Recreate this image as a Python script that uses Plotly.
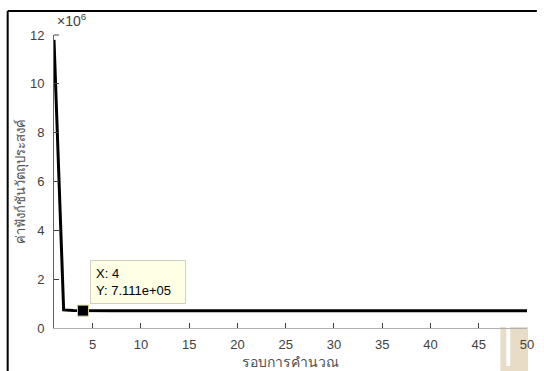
import plotly.graph_objects as go

# Objective value per iteration
iterations = list(range(1, 51))
objective = [11.8e6, 7.4e5, 7.2e5] + [7.111e5] * 47

tip_x = 4
tip_y = 7.111e5

y_tick_vals = [0, 2e6, 4e6, 6e6, 8e6, 10e6, 12e6]
y_tick_text = ["0", "2", "4", "6", "8", "10", "12"]
x_tick_vals = [5, 10, 15, 20, 25, 30, 35, 40, 45, 50]

W, H = 544, 371
ML, MR, MT, MB = 54, 10, 35, 43
PW = W - ML - MR
PH = H - MT - MB


def px(x):
    return (x - ML) / PW


def py(y):
    return (H - MB - y) / PH


fig = go.Figure()
fig.add_trace(go.Scatter(
    x=iterations, y=objective, mode="lines",
    line=dict(color="black", width=3), hoverinfo="skip", showlegend=False,
))
fig.add_trace(go.Scatter(
    x=[tip_x], y=[tip_y], mode="markers",
    marker=dict(symbol="square", size=11, color="black",
                line=dict(color="#d8d49a", width=1)),
    hoverinfo="skip", showlegend=False,
))

tick_font = dict(family="Liberation Sans, Arial, sans-serif", size=13, color="#404040")

fig.update_layout(
    width=W, height=H,
    margin=dict(l=ML, r=MR, t=MT, b=MB),
    paper_bgcolor="white", plot_bgcolor="white",
    xaxis=dict(
        range=[1, 50], tickvals=x_tick_vals, ticks="inside", ticklen=5,
        tickcolor="#404040", showline=True, linecolor="#b0b0b0", linewidth=1,
        showgrid=False, zeroline=False, tickfont=tick_font, ticklabelstandoff=4,
        title=dict(text="รอบการคำนวณ", standoff=0,
                   font=dict(family="Noto Sans, sans-serif", size=14, color="#505050")),
    ),
    yaxis=dict(
        range=[0, 12e6], tickvals=y_tick_vals, ticktext=y_tick_text,
        ticks="inside", ticklen=5, tickcolor="#404040",
        showline=True, linecolor="#606060", linewidth=1,
        showgrid=False, zeroline=False, tickfont=tick_font, ticklabelstandoff=6,
        title=dict(text="ค่าฟังก์ชันวัตถุประสงค์", standoff=1,
                   font=dict(family="Noto Sans, sans-serif", size=13, color="#505050")),
    ),
    annotations=[
        dict(text="×10<sup>6</sup>", x=px(55), y=py(31), xref="paper", yref="paper",
             xanchor="left", yanchor="bottom", showarrow=False,
             font=dict(family="Liberation Sans, Arial, sans-serif", size=14, color="#404040")),
        dict(text="X: 4<br>Y: 7.111e+05", x=px(91), y=py(260), xref="paper", yref="paper",
             xanchor="left", yanchor="top", showarrow=False, align="left",
             bgcolor="#ffffe6", bordercolor="#d0d0c0", borderwidth=1, borderpad=5,
             width=84,
             font=dict(family="Liberation Sans, Arial, sans-serif", size=13, color="black")),
    ],
    shapes=[
        # outer frame
        dict(type="line", xref="paper", yref="paper", x0=px(7), x1=px(544),
             y0=py(11), y1=py(11), line=dict(color="black", width=2)),
        dict(type="line", xref="paper", yref="paper", x0=px(7), x1=px(7),
             y0=py(11), y1=py(371), line=dict(color="black", width=2)),
        # top tick of the y axis
        dict(type="line", xref="paper", yref="paper", x0=px(54), x1=px(59),
             y0=1, y1=1, line=dict(color="#404040", width=1)),
        # corner badge
        dict(type="rect", xref="paper", yref="paper", x0=px(507), x1=px(535),
             y0=py(327), y1=py(371), fillcolor="#e8dcc6", line=dict(width=0),
             layer="below"),
        dict(type="rect", xref="paper", yref="paper", x0=px(513), x1=px(517),
             y0=py(327), y1=py(366), fillcolor="white", line=dict(width=0),
             layer="below"),
    ],
)

fig.write_html("out.html")
